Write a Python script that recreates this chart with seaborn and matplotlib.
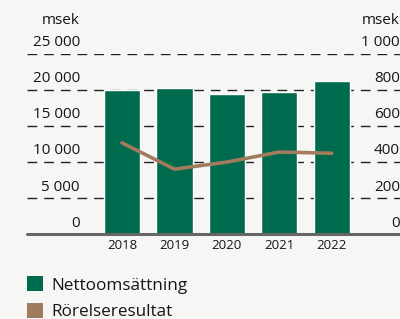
import matplotlib
matplotlib.use("Agg")
import matplotlib.pyplot as plt
import matplotlib.transforms as mtransforms
from matplotlib.patches import Patch
import numpy as np
import pandas as pd
import seaborn as sns

years = ["2018", "2019", "2020", "2021", "2022"]
nettoomsattning = [19950, 20240, 19400, 19680, 21250]
rorelseresultat = [505, 359, 398, 454, 447]
left_ticks = [0, 5000, 10000, 15000, 20000, 25000]
left_labels = ["0", "5 000", "10 000", "15 000", "20 000", "25 000"]
right_ticks = [0, 200, 400, 600, 800, 1000]
right_labels = ["0", "200", "400", "600", "800", "1 000"]

bg = "#f6f7f5"
green = "#006a4e"
brown = "#a07c5c"
txt = "#151515"

sns.set_style("white")
plt.rcParams["font.family"] = ["Open Sans", "DejaVu Sans"]

df = pd.DataFrame({"year": years, "netto": nettoomsattning, "rorelse": rorelseresultat})

fig = plt.figure(figsize=(4.0, 3.19), dpi=100, facecolor=bg)
ax = fig.add_axes([0.0675, 0.267, 0.9325, 0.565])
ax.set_facecolor(bg)

sns.barplot(data=df, x="year", y="netto", color=green, width=0.69,
            saturation=1, ax=ax, zorder=2)
ax.set_xlim(-1.81, 5.3)
ax.set_ylim(0, 25000)

# dashed gridlines
for t in left_ticks[1:]:
    ax.axhline(t, color="#222222", lw=1.0, ls=(0, (7, 5)), zorder=1)
ax.axhline(0, color="#666666", lw=2.2, zorder=3, clip_on=False)

ax2 = ax.twinx()
ax2.set_position(ax.get_position())
sns.lineplot(x=np.arange(len(years)), y=rorelseresultat, color=brown, lw=2.6, ax=ax2,
             zorder=4)
ax2.set_ylim(0, 1000)
ax2.set_xlim(-1.81, 5.3)

for a in (ax, ax2):
    a.set_yticks([])
    a.set_ylabel("")
    a.set_xlabel("")
    for s in a.spines.values():
        s.set_visible(False)

ax.tick_params(axis="x", length=0, pad=4, labelsize=9.5, labelcolor=txt)

# tick labels sitting above their gridlines
fs = 11
for t, lab in zip(left_ticks, left_labels):
    ax.text(-0.8, t + 450, lab, ha="right", va="bottom", fontsize=fs, color=txt)
ax.text(-0.8, 28600, "msek", ha="right", va="bottom", fontsize=fs, color=txt,
        clip_on=False)
trans = mtransforms.blended_transform_factory(ax2.transAxes, ax2.transData)
for t, lab in zip(right_ticks, right_labels):
    ax2.text(1.0, t + 18, lab, ha="right", va="bottom", fontsize=fs, color=txt,
             transform=trans)
ax2.text(1.0, 1144, "msek", ha="right", va="bottom", fontsize=fs, color=txt,
         transform=trans, clip_on=False)

handles = [Patch(facecolor=green, edgecolor="none"), Patch(facecolor=brown, edgecolor="none")]
fig.legend(handles, ["Nettoomsättning", "Rörelseresultat"], loc="upper left",
           bbox_to_anchor=(0.05, 0.155), frameon=False, fontsize=12.3,
           handlelength=0.95, handleheight=0.95, handletextpad=0.5, labelspacing=0.55,
           borderaxespad=0, labelcolor=txt)

fig.savefig("out.png", dpi=100, facecolor=bg)
